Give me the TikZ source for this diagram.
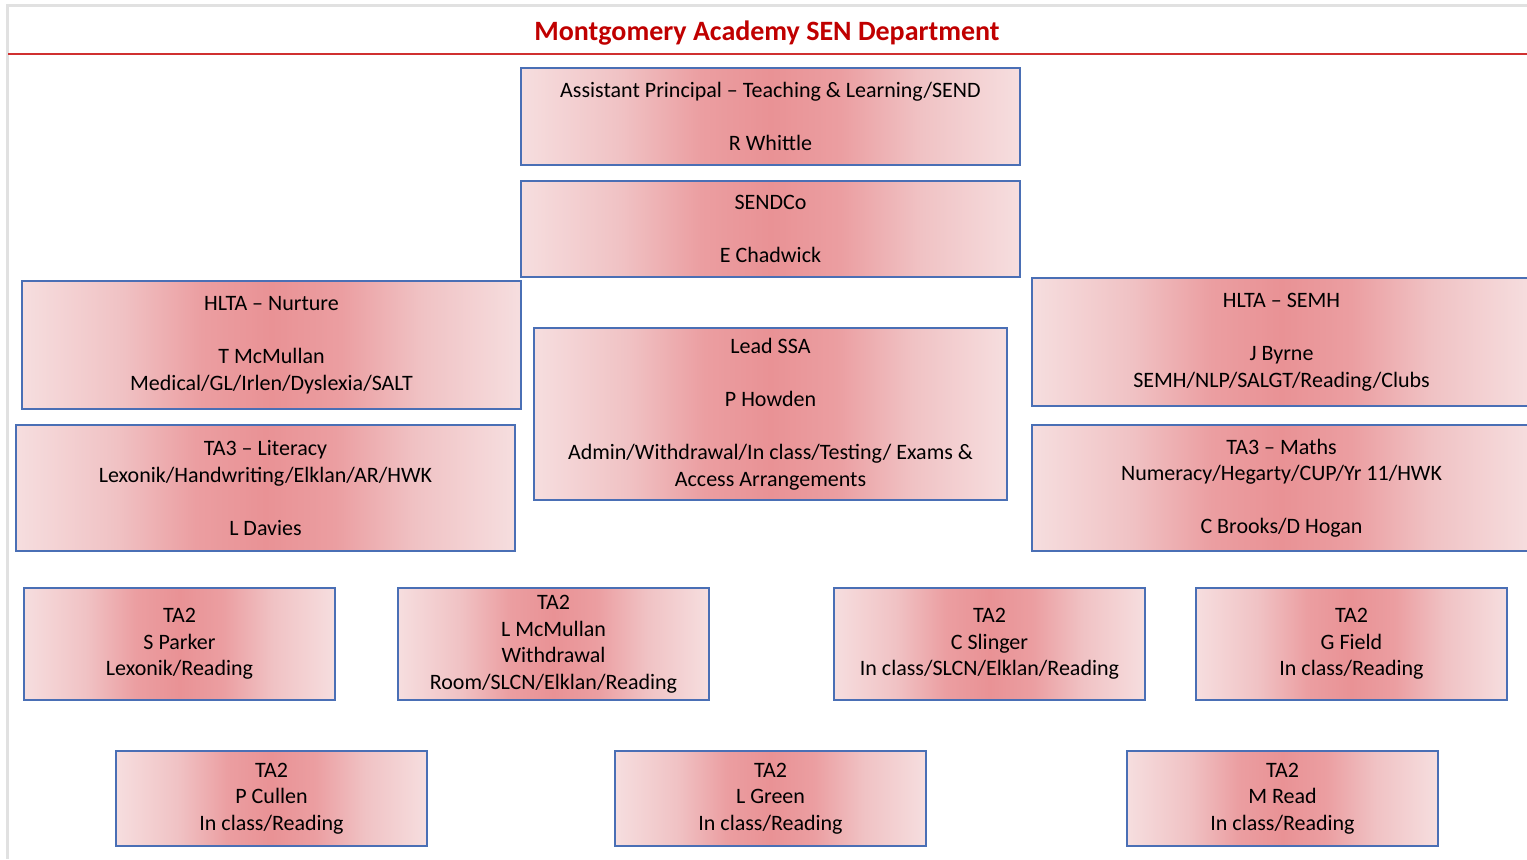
\documentclass[tikz,border=0pt]{standalone}
\usepackage{fontspec}
\setmainfont{Carlito}
\usepackage{tikz}
\usetikzlibrary{positioning}

\definecolor{boxedge}{RGB}{246,222,223}
\definecolor{boxmid}{RGB}{240,194,196}
\definecolor{boxnear}{RGB}{235,158,161}
\definecolor{boxcore}{RGB}{233,146,149}
\definecolor{boxline}{RGB}{74,111,181}
\definecolor{titlered}{RGB}{192,0,0}
\definecolor{rulered}{RGB}{208,48,48}
\definecolor{framegray}{RGB}{225,225,225}

\pgfdeclarehorizontalshading{staffshade}{100bp}{color(0bp)=(boxedge); color(25bp)=(boxedge); color(35bp)=(boxmid); color(43bp)=(boxnear); color(50bp)=(boxcore); color(57bp)=(boxnear); color(65bp)=(boxmid); color(75bp)=(boxedge); color(100bp)=(boxedge)}

\tikzset{
  staff/.style={draw=boxline, line width=0.6pt, shading=staffshade, inner sep=0pt,
    align=center, node font=\fontsize{11}{13.25}\selectfont},
  widebox/.style={staff, minimum width=249.5pt},
  tabox/.style={staff, minimum width=155.5pt}
}

\begin{document}
\begin{tikzpicture}[x=0.5pt, y=-0.5pt]
    \useasboundingbox (0,0) rectangle (1527,859);
    % page frame and heading
    \draw[framegray, line width=1.5pt] (7,859) -- (7,5) -- (1527,5);
    \draw[rulered, line width=1pt] (8,54) -- (1527,54);
    \node[text=titlered, font=\fontsize{14}{16}\selectfont\bfseries] (title) at (767,33) {Montgomery Academy SEN Department};

    % leadership
    \node[widebox, minimum height=48.5pt] (ap) at (770.5,116.5) {Assistant Principal -- Teaching \& Learning/SEND\\[\baselineskip]R Whittle};
    \node[widebox, minimum height=48pt] (sendco) at (770.5,229) {SENDCo\\[\baselineskip]E Chadwick};

    % HLTAs, lead SSA, TA3s
    \node[widebox, minimum height=64pt] (nurture) at (271.5,345) {HLTA -- Nurture\\[\baselineskip]T McMullan\\Medical/GL/Irlen/Dyslexia/SALT};
    \node[staff, minimum width=236.5pt, minimum height=86pt] (leadssa) at (770.5,414) {Lead SSA\\[\baselineskip]P Howden\\[\baselineskip]Admin/Withdrawal/In class/Testing/ Exams \&\\Access Arrangements};
    \node[widebox, minimum height=64pt] (semh) at (1281.5,342) {HLTA -- SEMH\\[\baselineskip]J Byrne\\SEMH/NLP/SALGT/Reading/Clubs};
    \node[widebox, minimum height=63pt] (literacy) at (265.5,488) {TA3 -- Literacy\\Lexonik/Handwriting/Elklan/AR/HWK\\[\baselineskip]L Davies};
    \node[widebox, minimum height=63pt] (maths) at (1281.5,488) {TA3 -- Maths\\Numeracy/Hegarty/CUP/Yr 11/HWK\\[\baselineskip]C Brooks/D Hogan};

    % TA2 row one
    \node[tabox, minimum height=56pt] (parker) at (179.5,644) {TA2\\S Parker\\Lexonik/Reading};
    \node[tabox, minimum height=56pt] (lmcmullan) at (553.5,644) {TA2\\L McMullan\\Withdrawal\\Room/SLCN/Elklan/Reading};
    \node[tabox, minimum height=56pt] (slinger) at (989.5,644) {TA2\\C Slinger\\In class/SLCN/Elklan/Reading};
    \node[tabox, minimum height=56pt] (field) at (1351.5,644) {TA2\\G Field\\In class/Reading};

    % TA2 row two
    \node[tabox, minimum height=47.5pt] (cullen) at (271.5,798.5) {TA2\\P Cullen\\In class/Reading};
    \node[tabox, minimum height=47.5pt] (green) at (770.5,798.5) {TA2\\L Green\\In class/Reading};
    \node[tabox, minimum height=47.5pt] (read) at (1282.5,798.5) {TA2\\M Read\\In class/Reading};
\end{tikzpicture}
\end{document}
